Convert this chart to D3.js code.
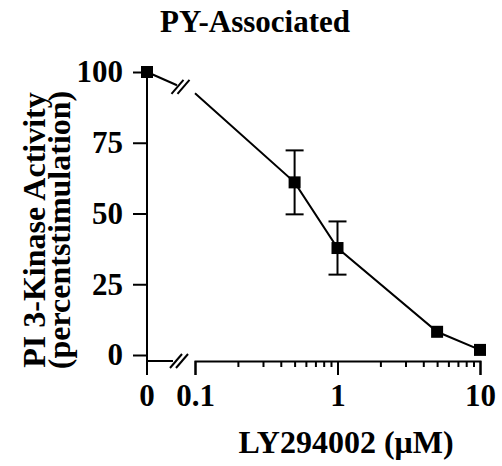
<!DOCTYPE html>
<html>
<head>
<meta charset="utf-8">
<script src="https://cdn.jsdelivr.net/npm/d3@7"></script>
<style>
  body { margin: 0; background: #fff; }
  text { font-family: "Liberation Serif", "Times New Roman", serif; font-weight: bold; fill: #000; }
</style>
</head>
<body>
<div id="chart"></div>
<script>
// data
const doses = [0, 0.5, 1, 5, 10];            // LY294002 (uM)
const activity = [100, 61, 37.8, 8.2, 1.8];  // percent stimulation
const errors = [0, 11.3, 9.4, 0, 0];
const breakValue = 92.5;                      // where the line crosses the axis break at 0.1
const yTicks = [0, 25, 50, 75, 100];
const xMajor = [0.1, 1, 10];
const xMinor = [0.2, 0.3, 0.4, 0.5, 0.6, 0.7, 0.8, 0.9, 2, 3, 4, 5, 6, 7, 8, 9];

const width = 502, height = 466;
const axisY = 361, zeroX = 147;

const svg = d3.select("#chart").append("svg")
    .attr("width", width)
    .attr("height", height);

const y = d3.scaleLinear().domain([0, 100]).range([355, 72]);
const xLog = d3.scaleLog().domain([0.1, 10]).range([195, 480]);
const xPos = d => d === 0 ? zeroX : xLog(d);

// title
svg.append("text")
    .attr("x", 255).attr("y", 32)
    .attr("text-anchor", "middle")
    .style("font-size", "31px")
    .text("PY-Associated");

// y axis
const yAxis = svg.append("g")
    .attr("transform", `translate(${zeroX},0)`)
    .call(d3.axisLeft(y).tickValues(yTicks).tickSize(14).tickPadding(10));
yAxis.select(".domain").remove();
yAxis.selectAll("line").attr("stroke-width", 2);
yAxis.selectAll("text").style("font-size", "31px");

svg.append("line")
    .attr("x1", zeroX).attr("x2", zeroX)
    .attr("y1", y(100)).attr("y2", axisY + 14)
    .attr("stroke", "#000").attr("stroke-width", 2);

// x axis: zero segment, break, log segment
svg.append("line")
    .attr("x1", zeroX).attr("x2", zeroX + 26)
    .attr("y1", axisY).attr("y2", axisY)
    .attr("stroke", "#000").attr("stroke-width", 2);

svg.append("text")
    .attr("x", zeroX).attr("y", axisY + 23).attr("dy", "0.71em")
    .attr("text-anchor", "middle")
    .style("font-size", "31px")
    .text("0");

const xAxis = svg.append("g")
    .attr("transform", `translate(0,${axisY})`)
    .call(d3.axisBottom(xLog).tickValues(xMajor).tickSize(14).tickPadding(9)
        .tickFormat(d3.format("")));
xAxis.select(".domain").attr("stroke-width", 2);
xAxis.selectAll("line").attr("stroke-width", 2);
xAxis.selectAll("text").style("font-size", "31px");

const xMinorAxis = svg.append("g")
    .attr("transform", `translate(0,${axisY})`)
    .call(d3.axisBottom(xLog).tickValues(xMinor).tickSize(6).tickFormat(""));
xMinorAxis.select(".domain").remove();
xMinorAxis.selectAll("line").attr("stroke-width", 2);

// break marks (double slash)
function slashes(cx, cy) {
    [-3, 3].forEach(o => {
        svg.append("line")
            .attr("x1", cx + o - 6).attr("y1", cy + 7)
            .attr("x2", cx + o + 6).attr("y2", cy - 7)
            .attr("stroke", "#000").attr("stroke-width", 2);
    });
}
slashes(zeroX + 32, axisY);

// data line, broken just before 0.1
const line = d3.line().x(d => d[0]).y(d => d[1]);
const p0 = [xPos(0), y(activity[0])];
const pb = [xLog(0.1), y(breakValue)];
const t = 30 / (pb[0] - p0[0]);
const cut = [p0[0] + (pb[0] - p0[0]) * t, p0[1] + (pb[1] - p0[1]) * t];
svg.append("path")
    .attr("d", line([p0, cut]))
    .attr("fill", "none").attr("stroke", "#000").attr("stroke-width", 2);
svg.append("path")
    .attr("d", line([pb].concat(doses.slice(1).map((d, i) => [xPos(d), y(activity[i + 1])]))))
    .attr("fill", "none").attr("stroke", "#000").attr("stroke-width", 2);
slashes(p0[0] + 33.5, p0[1] + (pb[1] - p0[1]) * (33.5 / (pb[0] - p0[0])));

// error bars
const eb = svg.append("g");
doses.forEach((d, i) => {
    if (!errors[i]) return;
    const cx = xPos(d);
    const top = y(activity[i] + errors[i]), bot = y(activity[i] - errors[i]);
    eb.append("line").attr("x1", cx).attr("x2", cx).attr("y1", top).attr("y2", bot)
        .attr("stroke", "#000").attr("stroke-width", 2);
    [top, bot].forEach(v => eb.append("line")
        .attr("x1", cx - 9).attr("x2", cx + 9).attr("y1", v).attr("y2", v)
        .attr("stroke", "#000").attr("stroke-width", 2));
});

// markers
svg.selectAll(".pt")
    .data(doses)
    .enter()
    .append("rect")
    .attr("x", d => xPos(d) - 6)
    .attr("y", (d, i) => y(activity[i]) - 6)
    .attr("width", 12).attr("height", 12)
    .attr("fill", "#000");

// axis titles
const yl = svg.append("text")
    .attr("transform", "translate(45,230) rotate(-90)")
    .attr("text-anchor", "middle")
    .style("font-size", "32px");
yl.append("tspan").attr("x", 0).attr("y", 0).text("PI 3-Kinase Activity");
yl.append("tspan").attr("x", 0).attr("y", 25).text("(percentstimulation)");

svg.append("text")
    .attr("x", 346).attr("y", 453)
    .attr("text-anchor", "middle")
    .style("font-size", "32px")
    .text("LY294002 (\u03bcM)");
</script>
</body>
</html>
